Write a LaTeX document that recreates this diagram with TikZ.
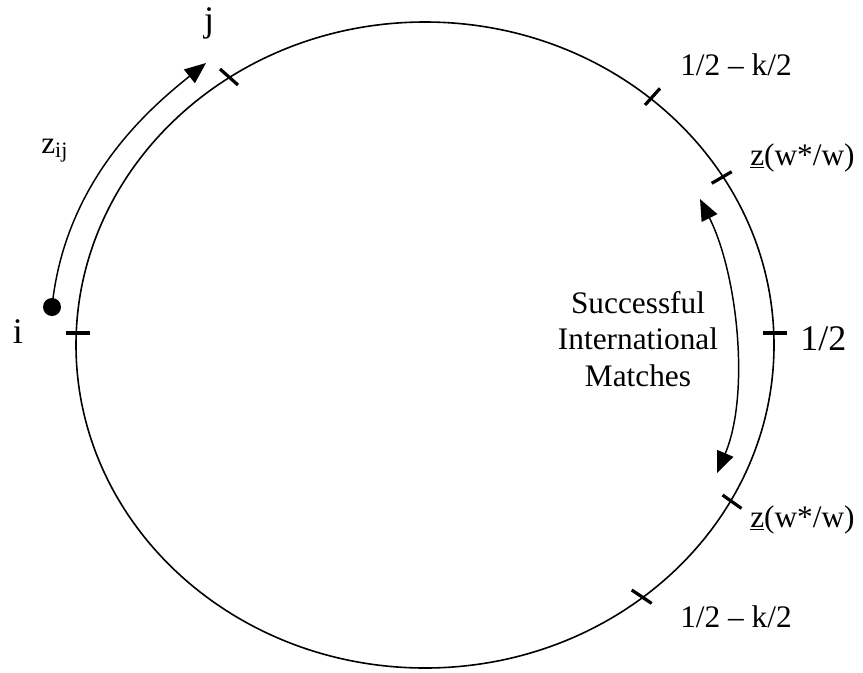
\documentclass[tikz,border=0pt]{standalone}
\usepackage{fontspec}
\setmainfont{Liberation Serif}
\usetikzlibrary{arrows.meta}

\begin{document}
\begin{tikzpicture}[
    x=0.75pt, y=-0.75pt,
    >={Triangle[length=16pt, width=13pt]},
    tickmark/.style={line width=2.4pt},
    flow/.style={line width=1.1pt},
    marktext/.style={inner sep=0pt, font=\fontsize{23.5}{27.5}\selectfont},
    bigtext/.style={inner sep=0pt, font=\fontsize{27}{31}\selectfont}
]
    \useasboundingbox (0,0) rectangle (863,672);

    % Circle
    \draw[line width=1.2pt] (425,345) ellipse [x radius=261.75pt, y radius=242.25pt];

    % Points on the circle
    \coordinate (tj) at (229,77);
    \coordinate (tku) at (652.5,96.7);
    \coordinate (tzu) at (721.7,177.5);
    \coordinate (thalf) at (775,333);
    \coordinate (tzl) at (732,501.7);
    \coordinate (tkl) at (641.7,596.7);
    \coordinate (ti) at (77.5,333);

    % Ticks
    \draw[tickmark] (tj) +(-9,-8) -- +(9,8);
    \draw[tickmark] (tku) +(-7.5,8.3) -- +(7.5,-8.3);
    \draw[tickmark] (tzu) +(-10,5.8) -- +(10,-5.8);
    \draw[tickmark] (thalf) +(-12,0) -- +(12,0);
    \draw[tickmark] (tzl) +(-9.5,-6.7) -- +(9.5,6.7);
    \draw[tickmark] (tkl) +(-10,-6.7) -- +(10,6.7);
    \draw[tickmark] (ti) +(-12,0) -- +(12,0);

    % Labels
    \node[bigtext, anchor=base] (jlabel) at (209,31) {j};
    \node[bigtext, anchor=base] (ilabel) at (18,343) {i};
    \node[bigtext, anchor=base west] (halflabel) at (800,350) {1/2};
    \node[marktext, anchor=base west] (kupper) at (680,75) {1/2 -- k/2};
    \node[marktext, anchor=base west] (zupper) at (750,165) {\underline{z}(w*/w)};
    \node[marktext, anchor=base west] (zlower) at (750,527) {\underline{z}(w*/w)};
    \node[marktext, anchor=base west] (klower) at (680,627) {1/2 -- k/2};
    \node[marktext, anchor=base west] (zij) at (41,153) {z\textsubscript{ij}};
    \node[marktext, align=center] (matches) at (638,339) {Successful\\International\\Matches};

    % Distance from i to j
    \node[circle, fill, inner sep=0pt, minimum size=13.5pt] (idot) at (52,307) {};
    \coordinate (jtip) at (206,63);
    \draw[flow, ->] (idot.center) .. controls (65,180) and (150,108) .. (jtip);

    % Range of matches
    \coordinate (mtop) at (700,199);
    \coordinate (mbot) at (717,473);
    \draw[flow, <->] (mtop) .. controls (738,275) and (750,395) .. (mbot);
\end{tikzpicture}
\end{document}
